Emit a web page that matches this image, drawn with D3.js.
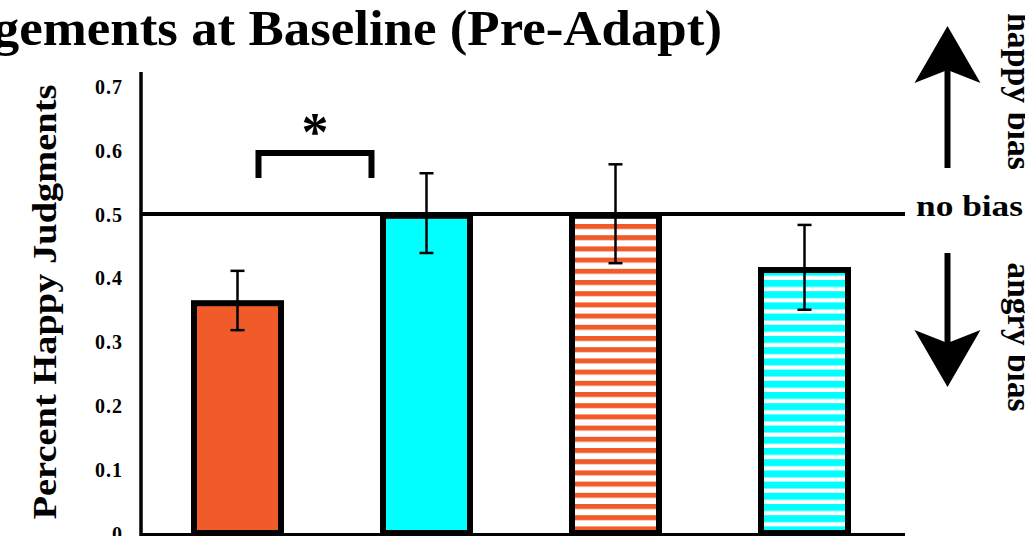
<!DOCTYPE html>
<meta charset="utf-8">
<head>
<style>
body { margin: 0; background: #fff; overflow: hidden; }
text { font-family: 'Liberation Serif', 'Times New Roman', serif; font-weight: bold; fill: #000; }
.tick text { font-size: 20px; letter-spacing: 1px; }
</style>
<script src="https://cdnjs.cloudflare.com/ajax/libs/d3/7.8.5/d3.min.js"></script>
</head>
<body>
<svg id="chart"></svg>
<script>

// conditions (not labelled on the figure)
var conditions = ["Angry adapt / ingroup", "Happy adapt / ingroup", "Angry adapt / outgroup", "Happy adapt / outgroup"]
var values = [0.365, 0.502, 0.502, 0.417]
var errLow = [0.318, 0.439, 0.423, 0.350]
var errHigh = [0.411, 0.564, 0.578, 0.483]
var fills = ["#F15A29", "#00FFFF", "#F15A29", "#00FFFF"]
var striped = [false, false, true, true]
var yTicks = [0, 0.1, 0.2, 0.3, 0.4, 0.5, 0.6, 0.7]
var noBias = 0.5

var width = 1025, height = 536

var svg = d3.select('#chart')
  .attr('width', width)
  .attr('height', height)

var y = d3.scaleLinear().domain([0, 0.7]).range([533, 86.5])

var x = d3.scaleBand()
  .domain(conditions)
  .range([191, 851])
  .paddingInner(0.508)
  .paddingOuter(0)

// stripe patterns
var defs = svg.append('defs')
var stripeSpecs = [
  {id: 'stripe-orange', color: '#F15A29', band: 5},
  {id: 'stripe-cyan', color: '#00FFFF', band: 7}
]
stripeSpecs.forEach(function (s) {
  var p = defs.append('pattern')
    .attr('id', s.id)
    .attr('patternUnits', 'userSpaceOnUse')
    .attr('width', 20)
    .attr('height', 11.2)
  p.append('rect').attr('width', 20).attr('height', 11.2).attr('fill', '#fff')
  p.append('rect').attr('width', 20).attr('height', s.band).attr('fill', s.color)
})

// title (left part runs off the page)
svg.append('text')
  .attr('transform', 'translate(722,45) scale(1.058,1)')
  .attr('text-anchor', 'end')
  .style('font-size', '50px')
  .text('Judgements at Baseline (Pre-Adapt)')

// y axis label
svg.append('text')
  .attr('transform', 'translate(56,302) rotate(-90)')
  .attr('text-anchor', 'middle')
  .attr('textLength', 435)
  .attr('lengthAdjust', 'spacingAndGlyphs')
  .style('font-size', '34px')
  .text('Percent Happy Judgments')

// y axis
var yAxis = svg.append('g')
  .attr('transform', 'translate(142,0)')
  .call(d3.axisLeft(y).tickValues(yTicks).tickSize(0).tickPadding(19)
    .tickFormat(function (d) { return d === 0 ? '0' : d3.format('.1f')(d) }))
yAxis.select('.domain').remove()
yAxis.selectAll('.tick text').attr('dy', '0.35em').style('font-family', "'Liberation Serif', serif")

svg.append('line')
  .attr('x1', 141).attr('x2', 141)
  .attr('y1', 72).attr('y2', 536)
  .attr('stroke', '#000').attr('stroke-width', 3.5)

// x axis line
svg.append('line')
  .attr('x1', 141).attr('x2', 905)
  .attr('y1', y(0) + 1.5).attr('y2', y(0) + 1.5)
  .attr('stroke', '#000').attr('stroke-width', 3)

// bars
var data = conditions.map(function (c, i) {
  return {cond: c, v: values[i], lo: errLow[i], hi: errHigh[i], fill: fills[i], striped: striped[i]}
})

svg.selectAll('.bar')
  .data(data)
  .enter().append('rect')
  .attr('class', 'bar')
  .attr('x', function (d) { return x(d.cond) + 3 })
  .attr('width', x.bandwidth() - 6)
  .attr('y', function (d) { return y(d.v) + 3 })
  .attr('height', function (d) { return y(0) - y(d.v) - 3 })
  .attr('fill', function (d) {
    if (!d.striped) return d.fill
    return d.fill === '#F15A29' ? 'url(#stripe-orange)' : 'url(#stripe-cyan)'
  })
  .attr('stroke', '#000')
  .attr('stroke-width', 6)

// no bias line
svg.append('line')
  .attr('x1', 141).attr('x2', 905)
  .attr('y1', y(noBias)).attr('y2', y(noBias))
  .attr('stroke', '#000').attr('stroke-width', 4)

// error bars
var eb = svg.selectAll('.err')
  .data(data)
  .enter().append('g')
  .attr('class', 'err')
  .attr('transform', function (d) { return 'translate(' + (x(d.cond) + x.bandwidth() / 2) + ',0)' })
eb.append('line')
  .attr('y1', function (d) { return y(d.hi) }).attr('y2', function (d) { return y(d.lo) })
  .attr('stroke', '#000').attr('stroke-width', 2.5)
eb.selectAll('.cap')
  .data(function (d) { return [d.hi, d.lo] })
  .enter().append('line')
  .attr('x1', -7).attr('x2', 7)
  .attr('y1', function (v) { return y(v) }).attr('y2', function (v) { return y(v) })
  .attr('stroke', '#000').attr('stroke-width', 2.5)

// significance bracket over the first bar
var bx1 = x(conditions[0]) + x.bandwidth() / 2 + 21
var bx2 = bx1 + 113
svg.append('path')
  .attr('d', 'M' + bx1 + ',178 V153 H' + bx2 + ' V178')
  .attr('fill', 'none')
  .attr('stroke', '#000')
  .attr('stroke-width', 6)
svg.append('text')
  .attr('x', (bx1 + bx2) / 2)
  .attr('y', 150)
  .attr('text-anchor', 'middle')
  .style('font-size', '54px')
  .text('*')

// right side annotations
function arrow(x0, yTail, yTip) {
  var dir = yTip < yTail ? -1 : 1
  var headLen = 57, headHalf = 33, notch = 13
  var yBase = yTip - dir * headLen
  var yNotch = yBase + dir * notch
  svg.append('line')
    .attr('x1', x0).attr('x2', x0)
    .attr('y1', yTail).attr('y2', yNotch)
    .attr('stroke', '#000').attr('stroke-width', 6)
  svg.append('path')
    .attr('d', 'M' + x0 + ',' + yTip +
      ' L' + (x0 + headHalf) + ',' + yBase +
      ' L' + x0 + ',' + yNotch +
      ' L' + (x0 - headHalf) + ',' + yBase + ' Z')
    .attr('fill', '#000')
}
arrow(947.5, 168, 26)
arrow(947.5, 253, 387)

svg.append('text')
  .attr('x', 916)
  .attr('y', 216)
  .attr('textLength', 107)
  .attr('lengthAdjust', 'spacingAndGlyphs')
  .style('font-size', '30px')
  .text('no bias')

svg.append('text')
  .attr('transform', 'translate(1008,91.5) rotate(90)')
  .attr('text-anchor', 'middle')
  .attr('textLength', 157)
  .attr('lengthAdjust', 'spacingAndGlyphs')
  .style('font-size', '34px')
  .text('happy bias')

svg.append('text')
  .attr('transform', 'translate(1008,337) rotate(90)')
  .attr('text-anchor', 'middle')
  .attr('textLength', 149)
  .attr('lengthAdjust', 'spacingAndGlyphs')
  .style('font-size', '34px')
  .text('angry bias')

</script>
</body>
